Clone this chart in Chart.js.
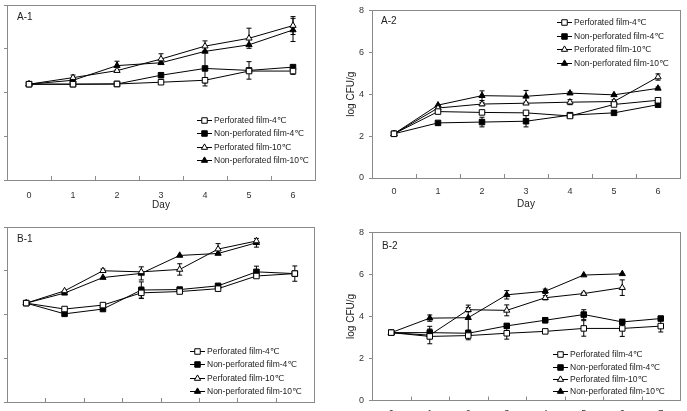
<!DOCTYPE html>
<html><head><meta charset="utf-8">
<script src="https://cdn.jsdelivr.net/npm/chart.js@4.4.0/dist/chart.umd.min.js"></script>
<style>
html,body{margin:0;padding:0;width:687px;height:411px;overflow:hidden;background:#fff}
body{position:relative}
.panel{position:absolute}
canvas{display:block}
</style></head><body>
<div class="panel" style="left:-24px;top:0px"><canvas id="cA1" width="344" height="215"></canvas></div>
<div class="panel" style="left:341px;top:0px"><canvas id="cA2" width="344" height="214"></canvas></div>
<div class="panel" style="left:-24px;top:222px"><canvas id="cB1" width="343" height="215"></canvas></div>
<div class="panel" style="left:341px;top:222px"><canvas id="cB2" width="344" height="214"></canvas></div>
<script>
// ---------- data ----------
const seriesNames = ['Perforated film-4\u2103', 'Non-perforated film-4\u2103', 'Perforated film-10\u2103', 'Non-perforated film-10\u2103'];
const daysA = ['0', '1', '2', '3', '4', '5', '6'];
const daysB = ['0', '1', '2', '3', '4', '5', '6', '7'];
const yTicks = [0, 2, 4, 6, 8];
const yTitle = 'log CFU/g';
const xTitle = 'Day';

// A-1
const a1Perf4      = [4.38, 4.38, 4.39, 4.47, 4.56, 4.98, 4.98];
const a1NonPerf4   = [4.38, 4.38, 4.39, 4.79, 5.10, 5.01, 5.16];
const a1Perf10     = [4.38, 4.68, 5.00, 5.53, 6.12, 6.48, 7.06];
const a1NonPerf10  = [4.38, 4.56, 5.23, 5.36, 5.88, 6.18, 6.86];
const a1Perf4Err     = [0, 0, 0, 0, 0.12, 0, 0.15];
const a1NonPerf4Err  = [0, 0, 0, 0, 0.80, 0.40, 0];
const a1Perf10Err    = [0, 0.12, 0, 0.24, 0.24, 0.46, 0.41];
const a1NonPerf10Err = [0, 0, 0.20, 0, 0, 0, 0.53];

// A-2
const a2Perf4      = [2.11, 3.17, 3.13, 3.11, 2.96, 3.51, 3.71];
const a2NonPerf4   = [2.11, 2.63, 2.67, 2.71, 3.00, 3.11, 3.50];
const a2Perf10     = [2.11, 3.34, 3.53, 3.57, 3.62, 3.65, 4.82];
const a2NonPerf10  = [2.11, 3.48, 3.93, 3.90, 4.05, 3.97, 4.28];
const a2Perf4Err     = [0, 0, 0, 0, 0, 0, 0.08];
const a2NonPerf4Err  = [0, 0, 0.23, 0.27, 0, 0, 0];
const a2Perf10Err    = [0, 0, 0.08, 0, 0.12, 0.08, 0.15];
const a2NonPerf10Err = [0, 0, 0.23, 0.28, 0.06, 0, 0.06];

// B-1
const b1Perf4      = [4.52, 4.25, 4.43, 4.99, 5.05, 5.18, 5.76, 5.87];
const b1NonPerf4   = [4.52, 4.03, 4.25, 5.12, 5.14, 5.31, 5.95, 5.87];
const b1Perf10     = [4.52, 5.08, 6.00, 5.95, 6.06, 6.99, 7.36, null];
const b1NonPerf10  = [4.52, 4.98, 5.69, 5.88, 6.70, 6.79, 7.28, null];
const b1Perf4Err     = [0, 0, 0, 0.26, 0, 0, 0, 0];
const b1NonPerf4Err  = [0, 0, 0, 0.37, 0, 0, 0.26, 0.35];
const b1Perf10Err    = [0, 0, 0.08, 0, 0.26, 0.25, 0, 0];
const b1NonPerf10Err = [0, 0.08, 0, 0.30, 0, 0, 0.20, 0];

// B-2
const b2Perf4      = [3.23, 3.05, 3.09, 3.20, 3.29, 3.43, 3.43, 3.54];
const b2NonPerf4   = [3.23, 3.23, 3.20, 3.55, 3.82, 4.09, 3.74, 3.90];
const b2Perf10     = [3.23, 3.11, 4.32, 4.29, 4.89, 5.09, 5.37, null];
const b2NonPerf10  = [3.23, 3.92, 3.94, 5.03, 5.20, 5.97, 6.03, null];
const b2Perf4Err     = [0, 0.35, 0.20, 0.28, 0.08, 0.37, 0.38, 0.28];
const b2NonPerf4Err  = [0, 0.30, 0.15, 0.10, 0.12, 0.23, 0.12, 0.08];
const b2Perf10Err    = [0, 0.10, 0.10, 0.26, 0.10, 0.06, 0.37, 0];
const b2NonPerf10Err = [0, 0.15, 0.60, 0.20, 0.10, 0, 0, 0];

// ---------- styles ----------
const FONT = "'Liberation Sans', Arial, 'DejaVu Sans', sans-serif";
const TEXT = '#222';
const FRAME = '#8a8a8a';
const pStyles = ['rect', 'rect', 'triangle', 'triangle'];
const pFills = ['#fff', '#000', '#fff', '#000'];
const pRadius = [3.9, 3.9, 3.6, 3.6];

function drawMarker(ctx, style, x, y, fill) {
  ctx.save();
  ctx.beginPath();
  if (style === 'rect') {
    const s = 2.75;
    ctx.rect(x - s, y - s, 2 * s, 2 * s);
  } else {
    const r = 3.6;
    ctx.moveTo(x, y - r);
    ctx.lineTo(x + r * 0.866, y + r * 0.5);
    ctx.lineTo(x - r * 0.866, y + r * 0.5);
    ctx.closePath();
  }
  ctx.fillStyle = fill; ctx.fill();
  ctx.strokeStyle = '#000'; ctx.lineWidth = 1; ctx.stroke();
  ctx.restore();
}

const errorBarPlugin = {
  id: 'errorBars',
  beforeDatasetsDraw(chart) {
    const ctx = chart.ctx, ys = chart.scales.y;
    ctx.save();
    ctx.strokeStyle = '#000'; ctx.lineWidth = 1;
    chart.data.datasets.forEach((ds, di) => {
      const meta = chart.getDatasetMeta(di);
      ds.data.forEach((v, i) => {
        const e = ds.err[i];
        if (v == null || !e) return;
        const x = meta.data[i].x;
        const yT = ys.getPixelForValue(v + e), yB = ys.getPixelForValue(v - e);
        ctx.beginPath();
        ctx.moveTo(x, yT); ctx.lineTo(x, yB);
        ctx.moveTo(x - 2.5, yT); ctx.lineTo(x + 2.5, yT);
        ctx.moveTo(x - 2.5, yB); ctx.lineTo(x + 2.5, yB);
        ctx.stroke();
      });
    });
    ctx.restore();
  }
};

const framePlugin = {
  id: 'frame',
  afterDatasetsDraw(chart, args, opts) {
    const ctx = chart.ctx, a = chart.chartArea, xs = chart.scales.x;
    ctx.save();
    ctx.strokeStyle = FRAME; ctx.lineWidth = 1;
    ctx.strokeRect(Math.round(a.left) + 0.5, Math.round(a.top) + 0.5, Math.round(a.right - a.left), Math.round(a.bottom - a.top));
    ctx.beginPath();
    const n = chart.data.labels.length;
    for (let i = 1; i < n; i++) {
      const x = Math.round((xs.getPixelForValue(i - 1) + xs.getPixelForValue(i)) / 2) + 0.5;
      ctx.moveTo(x, a.bottom); ctx.lineTo(x, a.bottom - 4);
    }
    ctx.stroke();
    // panel label
    ctx.fillStyle = TEXT;
    ctx.font = '10px ' + FONT;
    ctx.textBaseline = 'middle'; ctx.textAlign = 'left';
    ctx.fillText(opts.title, a.left + opts.titleDx, a.top + opts.titleDy);
    // legend
    ctx.font = '8.5px ' + FONT;
    chart.data.datasets.forEach((ds, i) => {
      const x0 = a.left + opts.legX, y = Math.round(a.top + opts.legY + i * opts.legGap) + 0.5;
      ctx.beginPath(); ctx.strokeStyle = '#000'; ctx.lineWidth = 1;
      ctx.moveTo(x0, y); ctx.lineTo(x0 + 15, y); ctx.stroke();
      drawMarker(ctx, pStyles[i], x0 + 7.5, y, pFills[i]);
      ctx.fillStyle = TEXT;
      ctx.fillText(ds.label, x0 + 17, y);
    });
    ctx.restore();
  }
};

function makeChart(id, cfg) {
  const datasets = cfg.series.map((s, i) => ({
    label: seriesNames[i], data: s, err: cfg.errs[i],
    borderColor: '#000', borderWidth: 1, tension: 0, spanGaps: false, fill: false,
    pointStyle: pStyles[i], pointRadius: pRadius[i], pointBackgroundColor: pFills[i],
    pointBorderColor: '#000', pointBorderWidth: 1
  }));
  return new Chart(document.getElementById(id), {
    type: 'line',
    data: { labels: cfg.labels, datasets },
    plugins: [errorBarPlugin, framePlugin],
    options: {
      responsive: false, animation: false, events: [],
      layout: { padding: { left: 0, right: cfg.padRight, top: 5, bottom: 0 } },
      plugins: {
        legend: { display: false }, tooltip: { enabled: false },
        frame: { title: cfg.title, titleDx: cfg.titleDx, titleDy: cfg.titleDy, legX: cfg.legX, legY: cfg.legY, legGap: cfg.legGap }
      },
      scales: {
        x: {
          type: 'category', offset: true,
          grid: { display: false }, border: { display: false },
          ticks: { padding: cfg.xPad, color: '#333', font: { family: FONT, size: 9 }, maxRotation: 0, autoSkip: false },
          title: { display: cfg.showXTitle, text: xTitle, color: TEXT, font: { family: FONT, size: 10 }, padding: { top: 4, bottom: 4 } },
          afterFit(s) { s.height = cfg.xh; }
        },
        y: {
          min: 0, max: 8,
          afterBuildTicks(s) { s.ticks = yTicks.map(v => ({ value: v })); },
          grid: { display: true, drawOnChartArea: false, drawTicks: true, tickLength: 3, color: FRAME },
          border: { display: false },
          ticks: { display: cfg.showY, padding: 5, color: '#333', font: { family: FONT, size: 9 } },
          title: { display: cfg.showY, text: yTitle, color: TEXT, font: { family: FONT, size: 10 }, padding: { top: 4, bottom: 4 } },
          afterFit(s) { s.width = 31; }
        }
      }
    }
  });
}

makeChart('cA1', { labels: daysA, series: [a1Perf4, a1NonPerf4, a1Perf10, a1NonPerf10],
  errs: [a1Perf4Err, a1NonPerf4Err, a1Perf10Err, a1NonPerf10Err],
  padRight: 2, xh: 35, xPad: 2, showY: false, showXTitle: true,
  title: 'A-1', titleDx: 10, titleDy: 12, legX: 190, legY: 114.5, legGap: 13.6 });
makeChart('cA2', { labels: daysA, series: [a2Perf4, a2NonPerf4, a2Perf10, a2NonPerf10],
  errs: [a2Perf4Err, a2NonPerf4Err, a2Perf10Err, a2NonPerf10Err],
  padRight: 2, xh: 36, xPad: 0.5, showY: true, showXTitle: true,
  title: 'A-2', titleDx: 9, titleDy: 11, legX: 185, legY: 11.3, legGap: 13.8 });
makeChart('cB1', { labels: daysB, series: [b1Perf4, b1NonPerf4, b1Perf10, b1NonPerf10],
  errs: [b1Perf4Err, b1NonPerf4Err, b1Perf10Err, b1NonPerf10Err],
  padRight: 2, xh: 35, xPad: 1, showY: false, showXTitle: false,
  title: 'B-1', titleDx: 10, titleDy: 12, legX: 183, legY: 124, legGap: 13.3 });
makeChart('cB2', { labels: daysB, series: [b2Perf4, b2NonPerf4, b2Perf10, b2NonPerf10],
  errs: [b2Perf4Err, b2NonPerf4Err, b2Perf10Err, b2NonPerf10Err],
  padRight: 2, xh: 35.5, xPad: 0, showY: true, showXTitle: false,
  title: 'B-2', titleDx: 10, titleDy: 14, legX: 181, legY: 122, legGap: 12.2 });
</script>
</body></html>
